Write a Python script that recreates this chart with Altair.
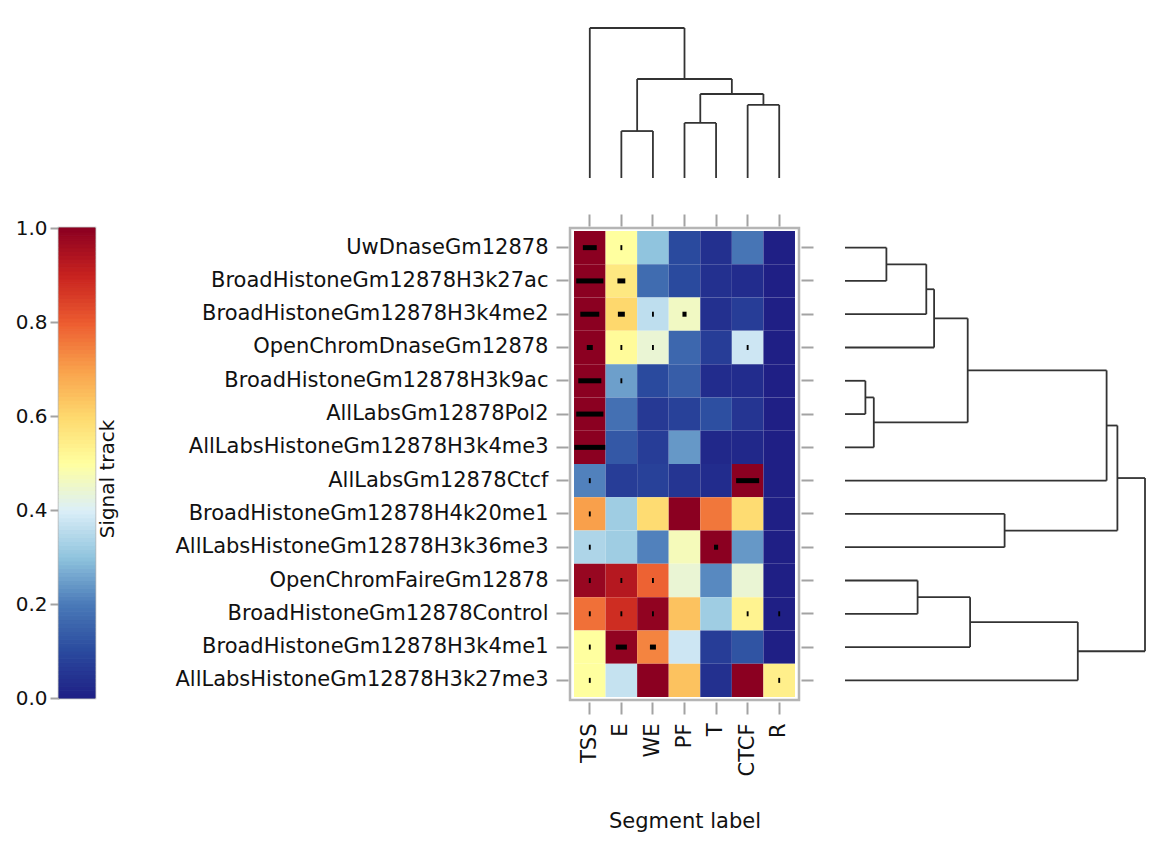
import numpy as np
import pandas as pd
import altair as alt

# ---------------- data ----------------
rows = ["UwDnaseGm12878", "BroadHistoneGm12878H3k27ac", "BroadHistoneGm12878H3k4me2",
        "OpenChromDnaseGm12878", "BroadHistoneGm12878H3k9ac", "AllLabsGm12878Pol2",
        "AllLabsHistoneGm12878H3k4me3", "AllLabsGm12878Ctcf", "BroadHistoneGm12878H4k20me1",
        "AllLabsHistoneGm12878H3k36me3", "OpenChromFaireGm12878", "BroadHistoneGm12878Control",
        "BroadHistoneGm12878H3k4me1", "AllLabsHistoneGm12878H3k27me3"]
cols = ["TSS", "E", "WE", "PF", "T", "CTCF", "R"]

# signal values per row (TSS, E, WE, PF, T, CTCF, R)
signal = [
    [1.00, 0.50, 0.30, 0.10, 0.04, 0.19, 0.00],
    [1.00, 0.56, 0.17, 0.10, 0.04, 0.03, 0.00],
    [1.00, 0.60, 0.36, 0.46, 0.04, 0.07, 0.00],
    [1.00, 0.51, 0.44, 0.16, 0.07, 0.38, 0.00],
    [1.00, 0.25, 0.10, 0.14, 0.03, 0.03, 0.00],
    [1.00, 0.18, 0.06, 0.08, 0.11, 0.05, 0.00],
    [1.00, 0.13, 0.07, 0.24, 0.02, 0.02, 0.00],
    [0.21, 0.07, 0.08, 0.05, 0.03, 1.00, 0.00],
    [0.70, 0.32, 0.59, 1.00, 0.76, 0.59, 0.00],
    [0.34, 0.32, 0.21, 0.47, 1.00, 0.24, 0.00],
    [0.98, 0.93, 0.79, 0.44, 0.22, 0.44, 0.00],
    [0.77, 0.88, 0.99, 0.64, 0.32, 0.53, 0.00],
    [0.50, 0.99, 0.74, 0.38, 0.07, 0.12, 0.00],
    [0.50, 0.37, 1.00, 0.64, 0.04, 1.00, 0.54],
]

# black bars inside cells: row index, column, relative width (fraction of a cell)
bar_rows = [0, 0, 1, 1, 2, 2, 2, 2, 3, 3, 3, 3, 4, 4, 5, 6, 7, 7, 8, 9, 9,
            10, 10, 10, 11, 11, 11, 11, 11, 12, 12, 12, 13, 13]
bar_cols = ["TSS", "E", "TSS", "E", "TSS", "E", "WE", "PF", "TSS", "E", "WE", "CTCF",
            "TSS", "E", "TSS", "TSS", "TSS", "CTCF", "TSS", "TSS", "T",
            "TSS", "E", "WE", "TSS", "E", "WE", "CTCF", "R", "TSS", "E", "WE", "TSS", "R"]
bar_widths = [0.44, 0.06, 0.86, 0.25, 0.60, 0.22, 0.06, 0.13, 0.19, 0.06, 0.06, 0.06,
              0.73, 0.06, 0.86, 0.98, 0.06, 0.73, 0.06, 0.06, 0.13,
              0.06, 0.06, 0.06, 0.06, 0.06, 0.06, 0.06, 0.06, 0.06, 0.35, 0.19, 0.06, 0.06]

# dendrogram merges: (child a, child b, height); L = leaf index, M = earlier merge
row_merges = [("L0", "L1", 0.138), ("M0", "L2", 0.271), ("M1", "L3", 0.297),
              ("L4", "L5", 0.068), ("M3", "L6", 0.096), ("M2", "M4", 0.409),
              ("M5", "L7", 0.872), ("L8", "L9", 0.532), ("M6", "M7", 0.908),
              ("L10", "L11", 0.242), ("M9", "L12", 0.417), ("M10", "L13", 0.776),
              ("M8", "M11", 1.000)]
col_merges = [("L1", "L2", 0.313), ("L3", "L4", 0.367), ("L5", "L6", 0.487),
              ("M1", "M2", 0.560), ("M0", "M3", 0.660), ("L0", "M4", 1.000)]

color_stops = [0.0, 0.1, 0.2, 0.3, 0.4, 0.5, 0.6, 0.7, 0.8, 0.9, 1.0]
color_range = ["#1f1f85", "#2a4a9e", "#4a7ab8", "#90c4de", "#dceff8", "#ffff9f",
               "#fed86d", "#f9a04b", "#ec5b30", "#c7221f", "#8b0021"]

# ---------------- layout ----------------
HEAT_W, HEAT_H = 229, 472
PADX, PADY = 0.127, 0.09
STEP_X = HEAT_W / (len(cols) + 2 * PADX)
TOP_H = 162
RD_W = 300
CB_W, CB_H = 36, 470
FONT = "DejaVu Sans"
TXT = "#111111"
TICK = "#a3a3a3"
LINE = "#333333"


def dendro_segments(merges, n):
    pos = {f"L{i}": i + 0.5 for i in range(n)}
    hgt = {f"L{i}": 0.0 for i in range(n)}
    segs = []
    for k, (a, b, h) in enumerate(merges):
        for c in (a, b):
            segs.append(dict(p1=pos[c], p2=pos[c], h1=hgt[c], h2=h))
        segs.append(dict(p1=pos[a], p2=pos[b], h1=h, h2=h))
        pos[f"M{k}"] = (pos[a] + pos[b]) / 2
        hgt[f"M{k}"] = h
    return pd.DataFrame(segs)


heat_df = pd.DataFrame([dict(row=r, col=c, value=signal[i][j])
                        for i, r in enumerate(rows) for j, c in enumerate(cols)])
bars_df = pd.DataFrame(dict(row=[rows[i] for i in bar_rows], col=bar_cols, w=bar_widths))

color_scale = alt.Scale(domain=color_stops, range=color_range, interpolate="rgb")

xs = alt.Scale(paddingInner=0, paddingOuter=PADX)
ys = alt.Scale(paddingInner=0, paddingOuter=PADY)

rect = alt.Chart(heat_df).mark_rect().encode(
    x=alt.X("col:N", sort=cols, scale=xs,
            axis=alt.Axis(orient="bottom", title="Segment label", labelAngle=270,
                          labelAlign="right", labelBaseline="middle", labelFontSize=21,
                          labelPadding=9, tickSize=12, offset=2, titleFontSize=21,
                          titleFontWeight="normal", titlePadding=34)),
    y=alt.Y("row:N", sort=rows, scale=ys,
            axis=alt.Axis(orient="left", title="", labelFontSize=21, labelPadding=8,
                          labelLimit=1000, tickSize=12, offset=2)),
    color=alt.Color("value:Q", scale=color_scale, legend=None),
)

ticks = alt.Chart(bars_df).mark_tick(orient="horizontal", thickness=5, color="black",
                                     opacity=1).encode(
    x=alt.X("col:N", sort=cols, scale=xs,
            axis=alt.Axis(orient="top", title="", labels=False, tickSize=12, offset=2)),
    y=alt.Y("row:N", sort=rows, scale=ys,
            axis=alt.Axis(orient="right", title="", labels=False, tickSize=12, offset=2)),
    size=alt.Size("w:Q", scale=alt.Scale(domain=[0, 1], range=[0, STEP_X]), legend=None),
)

heat = alt.layer(rect, ticks).resolve_axis(x="independent", y="independent").properties(
    width=HEAT_W, height=HEAT_H,
    view=alt.ViewBackground(stroke="#b5b5b5", strokeWidth=2.5))

# top dendrogram
seg_c = dendro_segments(col_merges, len(cols))
topd = alt.Chart(seg_c).mark_rule(color=LINE, strokeWidth=1.8).encode(
    x=alt.X("p1:Q", scale=alt.Scale(domain=[-PADX, len(cols) + PADX], nice=False, zero=False),
            axis=None),
    x2="p2:Q",
    y=alt.Y("h1:Q", scale=alt.Scale(domain=[0, 1.08], nice=False), axis=None),
    y2="h2:Q",
).properties(width=HEAT_W, height=TOP_H)

# right dendrogram
seg_r = dendro_segments(row_merges, len(rows))
rd = alt.Chart(seg_r).mark_rule(color=LINE, strokeWidth=1.8).encode(
    y=alt.Y("p1:Q", scale=alt.Scale(domain=[-PADY, len(rows) + PADY], nice=False, zero=False,
                                     reverse=True), axis=None),
    y2="p2:Q",
    x=alt.X("h1:Q", scale=alt.Scale(domain=[0, 1], nice=False), axis=None),
    x2="h2:Q",
).properties(width=RD_W, height=HEAT_H)

# colour bar
steps = np.linspace(0, 1, 121)
cb_df = pd.DataFrame(dict(lo=steps[:-1], hi=steps[1:], mid=(steps[:-1] + steps[1:]) / 2))
cbar = alt.Chart(cb_df).mark_rect(strokeWidth=1).encode(
    y=alt.Y("lo:Q", scale=alt.Scale(domain=[0, 1], nice=False),
            axis=alt.Axis(orient="left", title="", values=[0, 0.2, 0.4, 0.6, 0.8, 1.0],
                          format=".1f", labelFontSize=20, tickSize=9, labelPadding=3,
                          labelFlush=False)),
    y2="hi:Q",
    color=alt.Color("mid:Q", scale=color_scale, legend=None),
    stroke=alt.Stroke("mid:Q", scale=color_scale, legend=None),
).properties(width=CB_W, height=CB_H,
             view=alt.ViewBackground(stroke="#b5b5b5", strokeWidth=2.5),
             title=alt.TitleParams("Signal track", orient="right", angle=270, fontSize=20,
                                   fontWeight="normal", anchor="middle", offset=-18,
                                   dx=-16, color=TXT, font=FONT))


def blank(w, h):
    return alt.Chart(pd.DataFrame({"z": [0]})).mark_point(opacity=0).properties(width=w, height=h)


chart = alt.concat(
    blank(1, 1), blank(1, 1), topd, blank(1, 1),
    cbar, blank(383, 1), heat, rd,
    columns=4, spacing=alt.RowColnumber(row=50, column=46), bounds="flush", align="each",
).properties(
    padding={"left": 5, "top": 5, "right": 2, "bottom": 5}
).configure_view(stroke="transparent").configure_axis(
    labelFont=FONT, titleFont=FONT, labelColor=TXT, titleColor=TXT, grid=False,
    domain=False, tickColor=TICK, tickWidth=2
).configure_title(font=FONT)

chart.save("out.html", embed_options={"renderer": "svg", "actions": False})
